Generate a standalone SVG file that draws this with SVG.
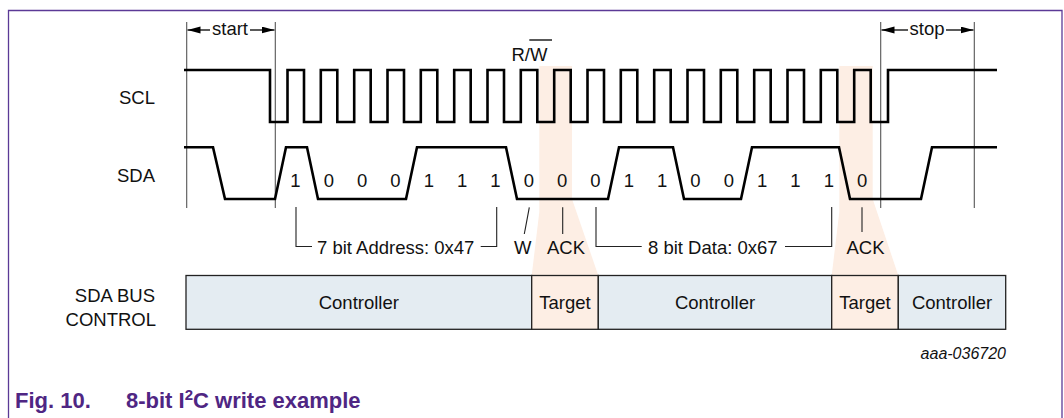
<svg xmlns="http://www.w3.org/2000/svg" width="1064" height="418" viewBox="0 0 1064 418">
<style>
.t{font-family:"Liberation Sans",Arial,sans-serif;font-size:18.5px;fill:#111}
.e{text-anchor:end}
.m{text-anchor:middle}
.sig{fill:none;stroke:#000;stroke-width:2.6;stroke-linejoin:miter}
.thin{fill:none;stroke:#222;stroke-width:1.1}
.mk{fill:none;stroke:#555;stroke-width:1.1}
.band{fill:#fdeee4}
.ctl{fill:#e4ecf2;stroke:#222;stroke-width:1.3}
.tgt{fill:#fdeee4;stroke:#222;stroke-width:1.3}
.cap{font-family:"Liberation Sans",Arial,sans-serif;font-size:22px;font-weight:bold;fill:#4f2683}
</style>
<defs>
<marker id="ah" markerUnits="userSpaceOnUse" markerWidth="14" markerHeight="8" refX="13" refY="3.5" orient="auto-start-reverse">
<path d="M0,0 L13,3.5 L0,7 z" fill="#000"/>
</marker>
</defs>
<rect width="1064" height="418" fill="#fff"/>
<path d="M8.5,418 V10.5 H1062 V418" fill="none" stroke="#5b3a96" stroke-width="1.3"/>

<g id="highlights">
<polygon class="band" points="539.3,66 572,66 572,199 598.3,275.5 531.7,275.5 539.3,212"/>
<polygon class="band" points="839.3,66 872.7,66 872.7,199 898.3,275.5 831.7,275.5 839.3,212"/>
</g>

<g id="markers">
<line class="mk" x1="186.7" y1="22" x2="186.7" y2="208"/>
<line class="mk" x1="275.3" y1="22" x2="275.3" y2="208"/>
<line class="mk" x1="880.7" y1="22" x2="880.7" y2="208"/>
<line class="mk" x1="974.3" y1="22" x2="974.3" y2="208"/>
<line x1="210" y1="30" x2="187.5" y2="30" stroke="#000" stroke-width="1.3" marker-end="url(#ah)"/>
<line x1="250" y1="30" x2="274.5" y2="30" stroke="#000" stroke-width="1.3" marker-end="url(#ah)"/>
<text class="t m" x="230" y="35">start</text>
<line x1="908" y1="30" x2="881.5" y2="30" stroke="#000" stroke-width="1.3" marker-end="url(#ah)"/>
<line x1="946" y1="30" x2="973.5" y2="30" stroke="#000" stroke-width="1.3" marker-end="url(#ah)"/>
<text class="t m" x="927" y="35">stop</text>
</g>

<g id="scl">
<text class="t e" x="155" y="104">SCL</text>
<path class="sig" d="M184,70 H270 V122 H287.5 V70 H304 V122 H320.8 V70 H337.3 V122 H354.2 V70 H370.7 V122 H387.5 V70 H404 V122 H420.8 V70 H437.3 V122 H454.2 V70 H470.7 V122 H487.5 V70 H504 V122 H520.8 V70 H537.3 V122 H554.2 V70 H570.7 V122 H587.5 V70 H604 V122 H620.8 V70 H637.3 V122 H654.2 V70 H670.7 V122 H687.5 V70 H704 V122 H720.8 V70 H737.3 V122 H754.2 V70 H770.7 V122 H787.5 V70 H804 V122 H820.8 V70 H837.3 V122 H854.2 V70 H870.7 V122 H888 V70 H997"/>
<text class="t" x="511.5" y="61">R/W</text>
<line x1="529.3" y1="40" x2="552" y2="40" stroke="#111" stroke-width="1.4"/>
</g>

<g id="sda">
<text class="t e" x="155" y="181.5">SDA</text>
<path class="sig" d="M184,147.3 H213 L225,199 H275 L286,147.3 H307 L318,199 H406 L417,147.3 H506 L517,199 H608 L619,147.3 H673 L684,199 H741 L752,147.3 H839 L850,199 H921 L932,147.3 H997"/>
<g class="t m">
<text x="295.5" y="186.5">1</text>
<text x="328.8" y="186.5">0</text>
<text x="362.2" y="186.5">0</text>
<text x="395.5" y="186.5">0</text>
<text x="428.8" y="186.5">1</text>
<text x="462.2" y="186.5">1</text>
<text x="495.5" y="186.5">1</text>
<text x="528.8" y="186.5">0</text>
<text x="562.2" y="186.5">0</text>
<text x="595.5" y="186.5">0</text>
<text x="628.8" y="186.5">1</text>
<text x="662.2" y="186.5">1</text>
<text x="695.5" y="186.5">0</text>
<text x="728.8" y="186.5">0</text>
<text x="762.2" y="186.5">1</text>
<text x="795.5" y="186.5">1</text>
<text x="828.8" y="186.5">1</text>
<text x="862.2" y="186.5">0</text>
</g>
</g>

<g id="connectors">
<polyline class="thin" points="296,207 296,246.5 312,246.5"/>
<polyline class="thin" points="480.7,246.5 496.7,246.5 496.7,207"/>
<line class="thin" x1="529.3" y1="207.3" x2="524.3" y2="234"/>
<line class="thin" x1="562.7" y1="207.3" x2="562.7" y2="234"/>
<polyline class="thin" points="596,207 596,246.5 641.7,246.5"/>
<polyline class="thin" points="785,246.5 831.7,246.5 831.7,207"/>
<line class="thin" x1="862" y1="207.3" x2="862" y2="232"/>
</g>

<g id="annotations">
<text class="t" x="317" y="254">7 bit Address: 0x47</text>
<text class="t m" x="522.7" y="254">W</text>
<text class="t m" x="566" y="254">ACK</text>
<text class="t" x="648" y="254">8 bit Data: 0x67</text>
<text class="t m" x="865.5" y="254">ACK</text>
</g>

<g id="bus-control">
<text class="t e" x="155" y="302.4">SDA BUS</text>
<text class="t e" x="156" y="326">CONTROL</text>
<g id="seg1"><rect class="ctl" x="186" y="275.5" width="345.7" height="53.8"/><text class="t m" x="358.8" y="309">Controller</text></g>
<g id="seg2"><rect class="tgt" x="531.7" y="275.5" width="66.6" height="53.8"/><text class="t m" x="565" y="309">Target</text></g>
<g id="seg3"><rect class="ctl" x="598.3" y="275.5" width="233.4" height="53.8"/><text class="t m" x="715" y="309">Controller</text></g>
<g id="seg4"><rect class="tgt" x="831.7" y="275.5" width="66.6" height="53.8"/><text class="t m" x="865" y="309">Target</text></g>
<g id="seg5"><rect class="ctl" x="898.3" y="275.5" width="107.4" height="53.8"/><text class="t m" x="952" y="309">Controller</text></g>
</g>

<text x="1006" y="358.5" text-anchor="end" style="font-family:'Liberation Sans',Arial,sans-serif;font-size:16px;font-style:italic;fill:#111">aaa-036720</text>
<text class="cap" x="15" y="408">Fig. 10.<tspan x="126">8-bit I</tspan><tspan dy="-8.5" font-size="15">2</tspan><tspan dy="8.5">C write example</tspan></text>
</svg>
